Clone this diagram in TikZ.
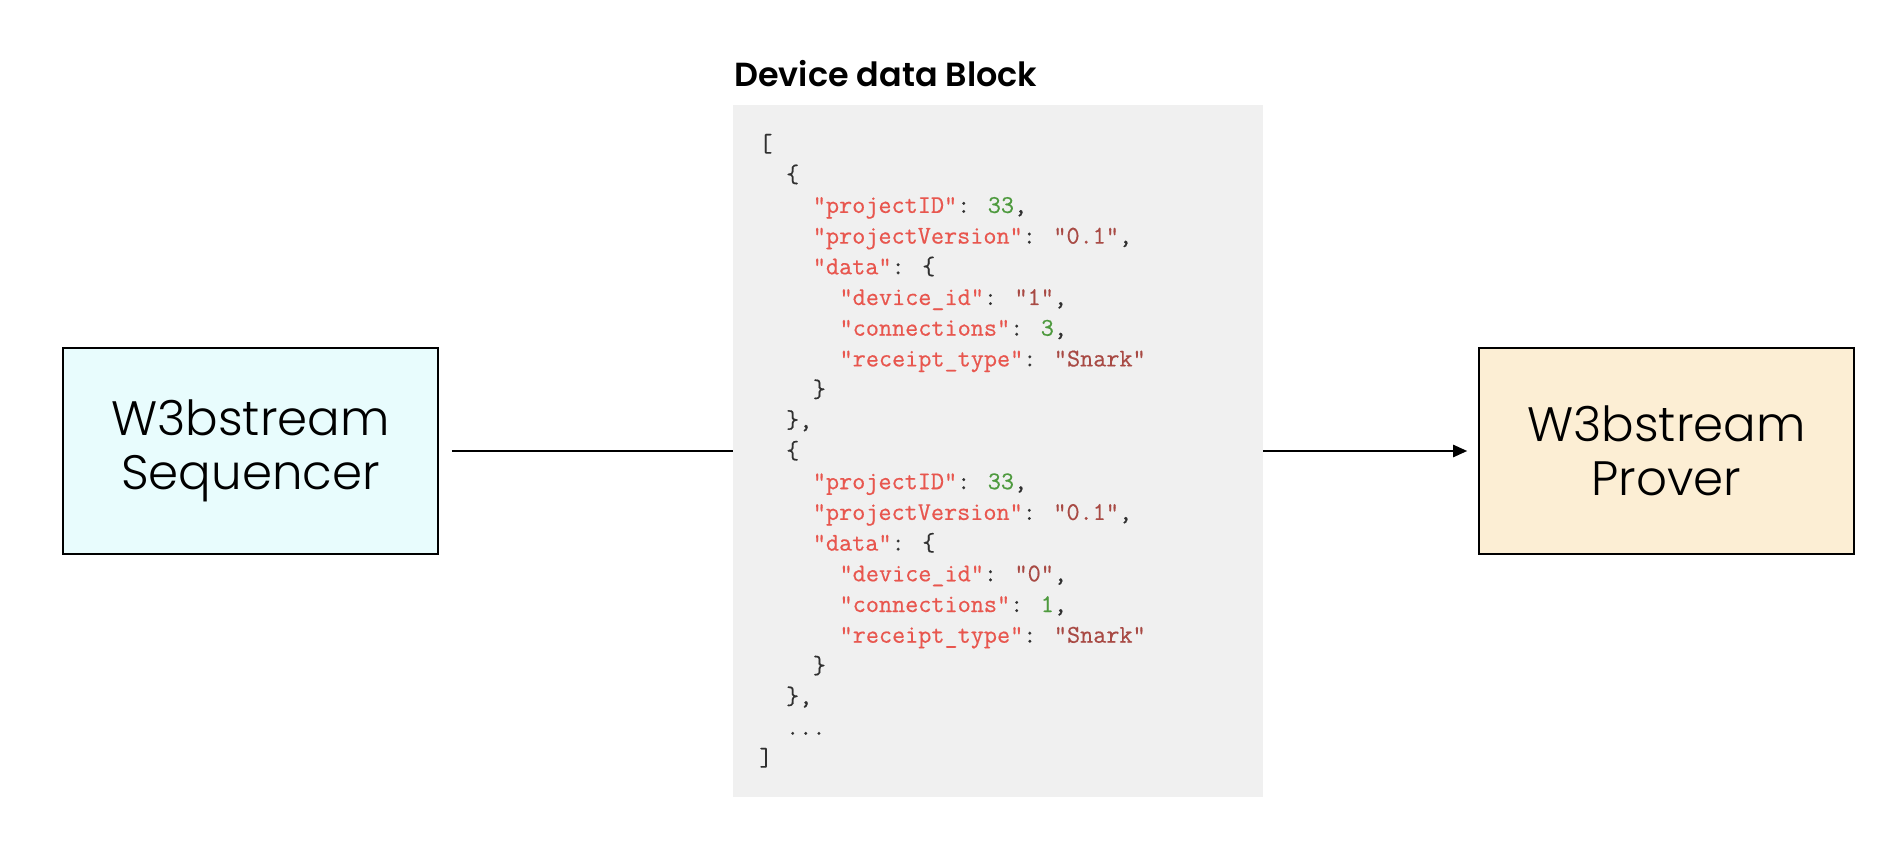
\documentclass[tikz,border=0pt]{standalone}
\usepackage{fontspec}
\setmainfont{Poppins}
\newfontfamily\boxfont{Poppins Light}
\newfontfamily\titlefont{Poppins SemiBold}
\newfontfamily\codefont{Latin Modern Mono}[FakeBold=0.5]
\usetikzlibrary{arrows.meta}

\definecolor{seqfill}{HTML}{E8FCFD}
\definecolor{provfill}{HTML}{FCEED4}
\definecolor{blockgray}{HTML}{F0F0F0}
\definecolor{jsonkey}{HTML}{E8564E}
\definecolor{jsonstr}{HTML}{A84A44}
\definecolor{jsonnum}{HTML}{4E9A3E}
\definecolor{jsonpunct}{HTML}{303030}

\newcommand\lvl[1]{\hspace*{\dimexpr1.05em*#1\relax}}
\newcommand\jk[1]{\textcolor{jsonkey}{"#1"}}
\newcommand\js[1]{\textcolor{jsonstr}{"#1"}}
\newcommand\jn[1]{\textcolor{jsonnum}{#1}}
\newcommand\jdots{...}

\tikzset{
  box/.style={draw, line width=1pt, minimum width=7.5cm, minimum height=4.12cm,
    align=center, font=\boxfont\fontsize{27.5pt}{31pt}\selectfont},
  conn/.style={line width=1pt}
}

\begin{document}
\begin{tikzpicture}[x=0.02cm, y=-0.02cm]
			\useasboundingbox (0,0) rectangle (1904,844);
			\node[box, fill=seqfill] (seq) at (250.5,451) {W3bstream\\Sequencer};
			\node[box, fill=provfill] (prov) at (1666.5,451) {W3bstream\\Prover};
			\node[fill=blockgray, minimum width=10.6cm, minimum height=13.84cm, inner sep=0] (block) at (998,451) {};
			\node[anchor=base west, font=\titlefont\fontsize{19pt}{22pt}\selectfont, inner sep=0] (title) at (734,87) {Device data Block};
			\foreach \jline [count=\k from 0] in {
				{[},
				{\lvl1\{},
				{\lvl2\jk{projectID}: \jn{33},},
				{\lvl2\jk{projectVersion}: \js{0.1},},
				{\lvl2\jk{data}: \{},
				{\lvl3\jk{device\_id}: \js{1},},
				{\lvl3\jk{connections}: \jn{3},},
				{\lvl3\jk{receipt\_type}: \js{Snark}},
				{\lvl2\}},
				{\lvl1\},},
				{\lvl1\{},
				{\lvl2\jk{projectID}: \jn{33},},
				{\lvl2\jk{projectVersion}: \js{0.1},},
				{\lvl2\jk{data}: \{},
				{\lvl3\jk{device\_id}: \js{0},},
				{\lvl3\jk{connections}: \jn{1},},
				{\lvl3\jk{receipt\_type}: \js{Snark}},
				{\lvl2\}},
				{\lvl1\},},
				{\lvl1\jdots},
				{]}}
				\node[anchor=base west, inner sep=0, text=jsonpunct, font=\codefont\fontsize{14.5pt}{17.5pt}\selectfont] (line\k) at (759,{151.5+30.7*\k}) {\jline};
			\draw[conn, shorten <=0.26cm] (seq) -- (block);
			\draw[conn, -{Triangle[length=8pt,width=7pt]}, shorten >=0.22cm] (block) -- (prov);
\end{tikzpicture}
\end{document}
